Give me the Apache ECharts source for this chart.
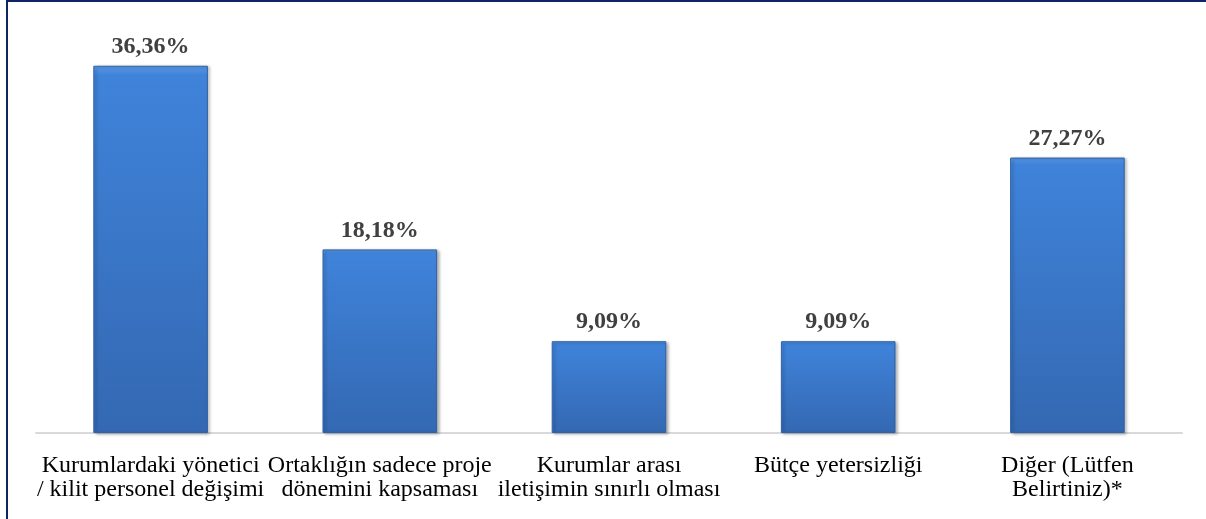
<!DOCTYPE html>
<html><head><meta charset="utf-8">
<script src="https://cdn.jsdelivr.net/npm/echarts@6/dist/echarts.min.js"></script>
<style>html,body{margin:0;padding:0;background:#fff;}#c{width:1206px;height:519px;}</style>
</head><body><div id="c"></div>
<script>
const categories = ["Kurumlardaki yönetici\n/ kilit personel değişimi", "Ortaklığın sadece proje\ndönemini kapsaması", "Kurumlar arası\niletişimin sınırlı olması", "Bütçe yetersizliği", "Diğer (Lütfen\nBelirtiniz)*"];
const values = [36.36, 18.18, 9.09, 9.09, 27.27];
const labels = ["36,36%", "18,18%", "9,09%", "9,09%", "27,27%"];

const chart = echarts.init(document.getElementById('c'));
chart.setOption({
  animation: false,
  backgroundColor: '#fff',
  grid: {left: 36, right: 24, top: 29, bottom: 86, containLabel: false},
  xAxis: {
    type: 'category', data: categories,
    axisLine: {show: true, lineStyle: {color: '#d9d9d9', width: 2}},
    axisTick: {show: false},
    axisLabel: {interval: 0, color: '#000', fontFamily: "'Liberation Serif', serif", fontSize: 24, lineHeight: 24, margin: 21}
  },
  yAxis: {type: 'value', min: 0, max: 40, show: false, splitLine: {show: false}},
  series: [{
    type: 'bar', data: values, barWidth: '50%',
    itemStyle: {
      color: {type: 'linear', x: 0, y: 0, x2: 0, y2: 1, colorStops: [
        {offset: 0, color: '#5a9ae6'}, {offset: 0.025, color: '#3f83da'}, {offset: 1, color: '#3468b2'}]},
      borderColor: '#2f62a6', borderWidth: 1,
      shadowColor: 'rgba(0,0,0,0.3)', shadowBlur: 3, shadowOffsetX: 2, shadowOffsetY: 1
    },
    label: {
      show: true, position: 'top', distance: 7,
      formatter: p => labels[p.dataIndex],
      fontFamily: "'Liberation Serif', serif", fontWeight: 'bold', fontSize: 24, color: '#404040'
    }
  }],
  graphic: [
    {type: 'rect', shape: {x: 6, y: 0, width: 2, height: 519}, style: {fill: '#0d2466'}},
    {type: 'rect', shape: {x: 6, y: 0, width: 1200, height: 2}, style: {fill: '#0d2466'}}
  ]
});
</script></body></html>
